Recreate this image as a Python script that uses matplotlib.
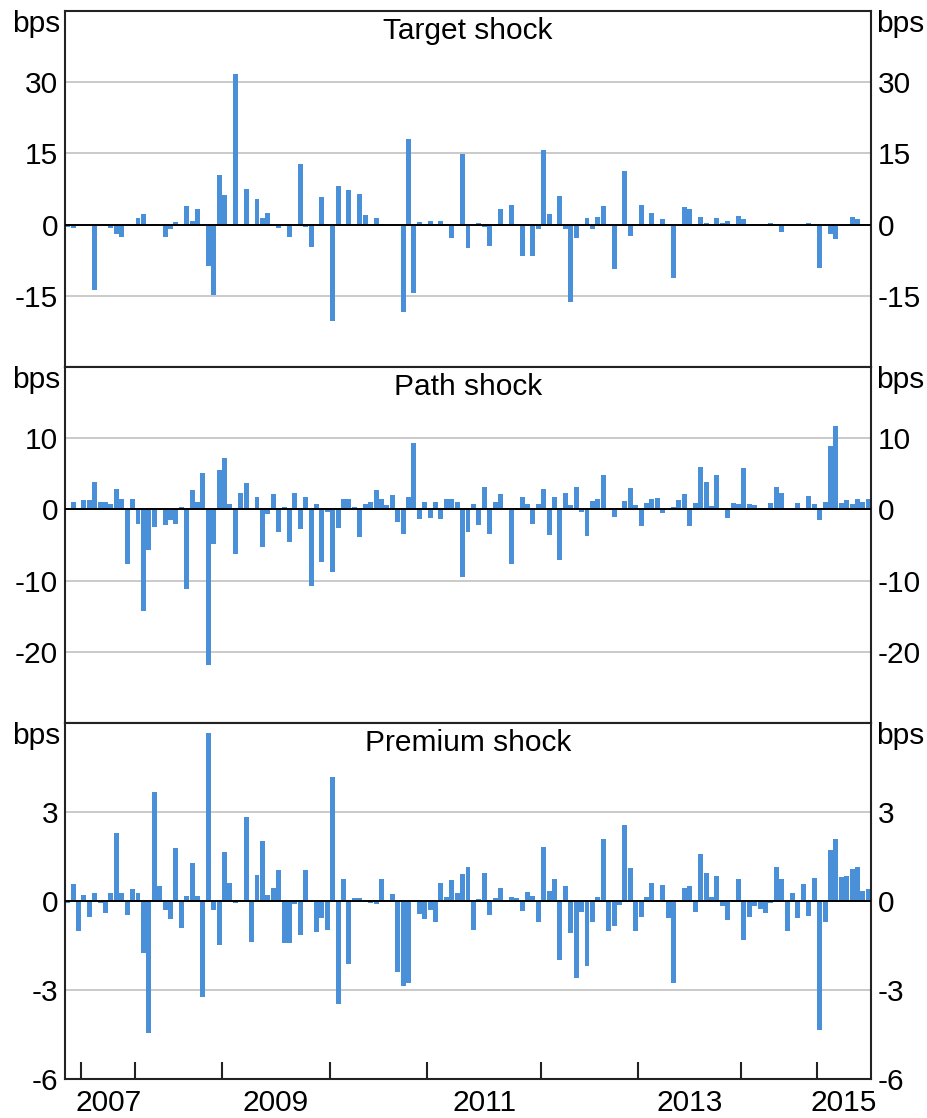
import matplotlib
matplotlib.use("Agg")
import matplotlib.pyplot as plt
import numpy as np

# shock values per announcement (bps)
target = [-0.5, -0.8, -0.35, -0.35, 0, -13.7, 0, -0.3, -0.8, -2.0,
          -2.5, -0.2, 0, 1.3, 2.3, -0.3, 0.1, 0, -2.5, -1.0,
          0.6, 0, 3.9, 0.8, 3.2, 0, -8.8, -14.9, 10.4, 6.3,
          0, 31.7, 0, 7.5, 0, 5.3, 1.5, 2.5, 0, -0.8,
          0, -2.7, 0, 12.7, -0.6, -4.8, 0, 5.9, 0, -20.2,
          8.2, 0, 7.4, 0, 6.5, 2.1, 0, 1.3, 0.1, -0.1,
          -0.1, -0.1, -18.3, 18.0, -14.5, 0.6, 0, 0.8, 0, 0.8,
          -0.3, -2.9, 0, 14.8, -5.0, 0, 0.4, -0.5, -4.4, -0.3,
          3.4, 0, 4.2, 0, -6.7, 0, -6.5, -1.0, 15.8, 2.3,
          0, 6.1, -1.0, -16.4, -2.9, -0.3, 1.3, -1.0, 1.7, 4.0,
          0, -9.4, 0, 11.2, -2.3, 0, 4.2, 0, 2.5, 0,
          1.1, 0, -11.3, 0, 3.8, 3.2, 0, 1.7, 0.4, 0,
          1.5, 0.3, 0.8, 0, 1.9, 1.1, 0, 0.2, 0, 0.1,
          0.4, 0, -1.6, -0.1, 0, 0, 0, 0.4, 0, -9.2,
          0, -2.0, -3.1, -0.2, 0, 1.7, 1.1, 0, 0]

path = [0.1, 1.1, 0, 1.3, 1.3, 3.8, 1.0, 1.0, 0.7, 2.8,
        1.5, -7.7, 1.5, -2.1, -14.3, -5.7, -2.5, 0, -2.2, -1.5,
        -2.1, 0.4, -11.2, 2.7, 1.1, 5.1, -21.9, -4.9, 5.6, 7.2,
        0.8, -6.2, 2.3, 3.7, 0, 1.8, -5.3, -0.7, 2.1, -3.2,
        0.3, -4.6, 2.3, -2.8, 1.8, -10.7, 0.8, -7.4, -0.4, -8.8,
        -2.6, 1.5, 1.4, 0.3, -3.9, 0.7, 1.0, 2.7, 1.5, 0.6,
        2.0, -1.8, -3.5, 1.8, 9.4, -1.4, 1.1, -1.2, 1.1, -1.4,
        1.4, 1.4, 1.0, -9.5, -3.2, 0.8, -2.2, 3.2, -3.5, 1.0,
        2.1, 0.1, -7.6, 0.2, 1.8, 0.8, -2.0, 0.8, 2.9, -3.6,
        1.8, -7.1, 2.3, 0.6, 3.2, -0.4, -3.7, 1.2, 1.4, 4.9,
        0.05, -1.1, 0, 1.2, 3.0, 0.6, -2.3, 0.9, 1.5, 1.6,
        -0.5, 0.1, 0.4, 1.3, 2.2, -2.3, 0.9, 6.0, 3.9, 0.5,
        4.9, 0.1, -1.2, 0.9, 0.8, 5.8, 0.8, 0.6, 0.1, 0.1,
        0.9, 3.1, 2.3, 0.05, 0.05, 0.9, 0.1, 1.9, 0.8, -1.5,
        1.0, 8.9, 11.7, 0.9, 1.3, 0.7, 1.5, 1.0, 1.5]

premium = [-0.08, 0.57, -1.0, 0.2, -0.53, 0.27, -0.07, -0.4, 0.27, 2.29,
           0.27, -0.46, 0.4, 0.27, -1.74, -4.44, 3.67, 0.5, -0.29, -0.6,
           1.79, -0.9, 0.17, 1.28, 0.17, -3.22, 5.66, -0.29, -1.47, 1.65,
           0.6, -0.06, 0.03, 2.83, -1.37, 0.88, 2.02, 0.2, 0.44, 1.04,
           -1.4, -1.4, -0.09, -1.13, 1.04, -0.03, -1.03, -0.56, -0.97, 4.18,
           -3.46, 0.74, -2.11, 0.1, 0.1, -0.03, -0.06, -0.09, 0.74, 0.02,
           0.24, -2.38, -2.85, -2.75, -0.02, -0.43, -0.6, -0.29, -0.7, 0.6,
           0.13, 0.7, 0.27, 0.91, 1.15, -0.97, 0.08, 0.94, -0.46, 0.1,
           0.44, 0.02, 0.13, 0.1, -0.33, 0.3, 0.17, -0.7, 1.82, 0.34,
           0.74, -1.98, 0.5, -1.07, -2.58, -0.36, -2.18, -0.7, 0.13, 2.09,
           -1.0, -0.83, -0.12, 2.56, 1.11, -1.0, -0.53, 0.13, 0.6, 0.03,
           0.54, -0.56, -2.75, 0, 0.44, 0.5, -0.36, 1.6, 0.94, 0.13,
           0.84, -0.16, -0.63, 0.02, 0.74, -1.3, -0.53, -0.16, -0.26, -0.4,
           -0.06, 1.15, 0.74, -1.0, 0.27, -0.56, 0.57, -0.49, 0.78, -4.34,
           -0.7, 1.72, 2.09, 0.81, 0.84, 1.08, 1.15, 0.34, 0.4]

# index of first announcement in each year
year_start = [3, 13, 29, 49, 67, 88, 106, 125, 139]
years = [2007, 2008, 2009, 2010, 2011, 2012, 2013, 2014, 2015]

titles = ["Target shock", "Path shock", "Premium shock"]
ylims = [(-30, 45), (-30, 20), (-6, 6)]
yticks = [[-15, 0, 15, 30], [-20, -10, 0, 10], [-6, -3, 0, 3]]

plt.rcParams['font.family'] = ['Liberation Sans', 'DejaVu Sans']
plt.rcParams['font.size'] = 21.5

n = len(target)
x = np.arange(n) + 0.5
bar_col = '#4A90D9'

fig = plt.figure(figsize=(9.28, 11.18), dpi=100)
left, width = 0.070, 0.8686
h = 0.3184
bottoms = [0.0349 + 2 * h, 0.0349 + h, 0.0349]

for k, vals in enumerate([target, path, premium]):
    ax = fig.add_axes([left, bottoms[k], width, h])
    ax.bar(x, vals, width=0.92, color=bar_col, zorder=2)
    ax.set_xlim(0, n)
    ax.set_ylim(*ylims[k])
    for t in yticks[k]:
        if t == 0:
            ax.axhline(0, color='black', lw=1.4, zorder=3)
        elif t != ylims[k][0]:
            ax.axhline(t, color='#c6c6c6', lw=1.3, zorder=1)
    ax.set_yticks(yticks[k])
    ax.set_yticklabels([str(t) for t in yticks[k]])
    ax.tick_params(axis='y', length=0, pad=5, labelleft=True, labelright=True)
    for s in ax.spines.values():
        s.set_linewidth(1.5)
        s.set_color('#222222')
    ax.text(0.5, 1 - 20 / 356, titles[k], transform=ax.transAxes,
            ha='center', va='center')
    ax.text(-0.006, 1 - 13 / 356, 'bps', transform=ax.transAxes,
            ha='right', va='center')
    ax.text(1.006, 1 - 13 / 356, 'bps', transform=ax.transAxes,
            ha='left', va='center')
    if k < 2:
        ax.set_xticks([])
    else:
        ax.set_xticks(year_start)
        ax.set_xticklabels([])
        ax.tick_params(axis='x', which='major', direction='in', length=12,
                       width=1.5, color='#222222')
        ends = year_start[1:] + [n]
        mids = [(a + b) / 2 for a, b, y in zip(year_start, ends, years) if y % 2 == 1]
        ax.set_xticks(mids, minor=True)
        ax.set_xticklabels([str(y) for y in years if y % 2 == 1], minor=True)
        ax.tick_params(axis='x', which='minor', length=0, pad=7)

fig.savefig('out.png', dpi=100)
